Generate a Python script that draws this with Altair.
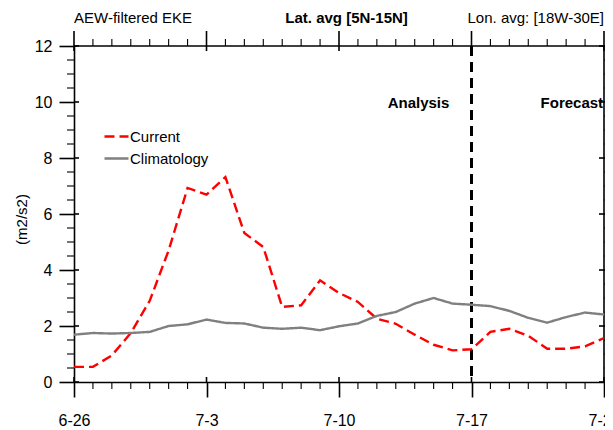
import json
import altair as alt
import pandas as pd

# ---------------- data ----------------
days = list(range(29))  # day 0 = 6-26 ... day 28 = 7-24
current = [0.54, 0.54, 0.95, 1.75, 2.90, 4.70, 6.93, 6.69, 7.32, 5.32,
           4.82, 2.68, 2.74, 3.63, 3.18, 2.86, 2.26, 2.08, 1.69, 1.33,
           1.13, 1.17, 1.79, 1.90, 1.65, 1.19, 1.19, 1.27, 1.57]
climatology = [1.69, 1.75, 1.73, 1.75, 1.79, 2.00, 2.06, 2.23, 2.11, 2.09,
               1.94, 1.90, 1.94, 1.85, 1.99, 2.09, 2.36, 2.50, 2.80, 3.00,
               2.80, 2.76, 2.71, 2.54, 2.29, 2.12, 2.32, 2.48, 2.41]
series_names = ["Current", "Climatology"]
series_colors = ["#ff0000", "#808080"]
series_dash = [[10, 5], [1, 0]]

x_range = [0, 28]
y_range = [0, 12]
tick_days = [0, 7, 14, 21, 28]
tick_labels = ["6-26", "7-3", "7-10", "7-17", "7-24"]
minor_days = [d for d in range(29) if d not in tick_days]
y_major = [0, 2, 4, 6, 8, 10, 12]
y_minor = [i * 0.5 for i in range(25) if (i * 0.5) not in y_major]

analysis_end_day = [21]
annot_text = ["Analysis", "Forecast"]
annot_day = [18.2, 26.3]
annot_value = [9.8, 9.8]

title_left = "AEW-filtered EKE"
title_center = "Lat. avg [5N-15N]"
title_right = "Lon. avg: [18W-30E]"
title_days = [0, 14.4, 28]
y_title = "(m2/s2)"

# ---------------- build ----------------
FONT = "Liberation Sans, Arial, sans-serif"
W, H = 530, 336

df = pd.DataFrame({
    "day": days + days,
    "value": current + climatology,
    "series": [series_names[0]] * len(days) + [series_names[1]] * len(days),
})
vline_df = pd.DataFrame({"day": analysis_end_day})
annot_df = pd.DataFrame({"day": annot_day, "value": annot_value, "label": annot_text})

XS = alt.Scale(domain=x_range, nice=False, zero=False)
YS = alt.Scale(domain=y_range, nice=False, zero=False)

label_expr = f"{json.dumps(tick_labels)}[indexof({json.dumps(tick_days)}, datum.value)]"


def xenc(axis=None, field="day"):
    return alt.X(f"{field}:Q", scale=XS, axis=axis)


def yenc(axis=None, field="value"):
    return alt.Y(f"{field}:Q", scale=YS, axis=axis)


bottom_axis = alt.Axis(orient="bottom", values=tick_days, grid=False, domain=True,
                       domainColor="black", domainWidth=1.6, tickColor="black",
                       tickSize=15, tickWidth=1.6, labelExpr=label_expr, labelFont=FONT,
                       labelFontSize=16, labelPadding=15, labelColor="black",
                       labelFlush=False, labelOverlap=False, title=None)
left_axis = alt.Axis(orient="left", values=y_major, format="d", grid=False, domain=True,
                     domainColor="black", domainWidth=1.6, tickColor="black",
                     tickSize=15, tickWidth=1.6, labelFont=FONT, labelFontSize=16,
                     labelPadding=7, labelColor="black", labelFlush=False,
                     labelOverlap=False, title=y_title, titleFont=FONT, titleFontSize=15,
                     titleFontWeight="normal", titleColor="black", titleAngle=270,
                     titleX=-53, titleY=173, titleAlign="center", titleBaseline="middle")

legend = alt.Legend(title=None, orient="none", legendX=29, legendY=77,
                    symbolType="stroke", symbolSize=576, symbolStrokeWidth=2.4,
                    labelFont=FONT, labelFontSize=15, labelColor="black",
                    labelOffset=0, rowPadding=-10, padding=0)

lines = alt.Chart(df).mark_line(clip=True, strokeWidth=2.4).encode(
    x=xenc(bottom_axis),
    y=yenc(left_axis),
    color=alt.Color("series:N", scale=alt.Scale(domain=series_names, range=series_colors),
                    legend=legend),
    strokeDash=alt.StrokeDash("series:N",
                              scale=alt.Scale(domain=series_names, range=series_dash),
                              legend=legend),
)

# frame: top and right borders
top_df = pd.DataFrame({"day": [x_range[0]], "day2": [x_range[1]], "value": [y_range[1]]})
right_df = pd.DataFrame({"day": [x_range[1]], "value": [y_range[0]], "value2": [y_range[1]]})
top_border = alt.Chart(top_df).mark_rule(color="black", strokeWidth=1.6).encode(
    x=xenc(), x2="day2:Q", y=yenc())
right_border = alt.Chart(right_df).mark_rule(color="black", strokeWidth=1.6).encode(
    x=xenc(), y=yenc(), y2="value2:Q")

# tick marks (minor every day / 0.5 unit, major parts not drawn by the axes)
xmin_df = pd.DataFrame({"day": minor_days})
xmaj_df = pd.DataFrame({"day": tick_days})
ymin_df = pd.DataFrame({"value": y_minor})
ymaj_df = pd.DataFrame({"value": y_major})


def xticks(d, y1, y2, w):
    return alt.Chart(d).mark_rule(color="black", strokeWidth=w).encode(
        x=xenc(), y=alt.value(y1), y2=alt.value(y2))


def yticks(d, x1, x2, w):
    return alt.Chart(d).mark_rule(color="black", strokeWidth=w).encode(
        y=yenc(), x=alt.value(x1), x2=alt.value(x2))


tick_layers = [
    xticks(xmin_df, H, H + 7, 1.1),       # bottom minor
    xticks(xmaj_df, H - 5, H, 1.6),       # bottom major (inside part)
    xticks(xmin_df, -7, 0, 1.1),          # top minor
    xticks(xmaj_df, -15, 5, 1.6),         # top major
    yticks(ymin_df, -7, 0, 1.1),          # left minor
    yticks(ymaj_df, 0, 5, 1.6),           # left major (inside part)
    yticks(ymin_df, W, W + 7, 1.1),       # right minor
    yticks(ymaj_df, W - 5, W + 15, 1.6),  # right major
]

vline = alt.Chart(vline_df).mark_rule(color="black", strokeWidth=3,
                                      strokeDash=[10, 6]).encode(x=xenc())

annots = alt.Chart(annot_df).mark_text(font=FONT, fontSize=15, fontWeight="bold",
                                       baseline="alphabetic", align="center",
                                       color="black").encode(
    x=xenc(), y=yenc(), text="label:N")


def top_text(text, day, align, weight):
    d = pd.DataFrame({"day": [day], "value": [y_range[1]], "label": [text]})
    return alt.Chart(d).mark_text(font=FONT, fontSize=15, fontWeight=weight,
                                  baseline="alphabetic", align=align, dy=-22.7,
                                  color="black").encode(
        x=xenc(), y=yenc(), text="label:N")


t_left = top_text(title_left, title_days[0], "left", "normal")
t_center = top_text(title_center, title_days[1], "center", "bold")
t_right = top_text(title_right, title_days[2], "right", "normal")

chart = alt.layer(
    top_border, right_border, *tick_layers, vline, lines, annots, t_left, t_center, t_right
).resolve_scale(
    x="independent", y="independent", color="shared", strokeDash="shared"
).properties(
    width=W, height=H,
    padding={"left": 66, "top": 38, "right": 1, "bottom": 46},
    autosize=alt.AutoSizeParams(type="none"),
    background="white",
).configure_view(stroke=None)

chart.save("out.html", embed_options={"renderer": "svg", "actions": False})
